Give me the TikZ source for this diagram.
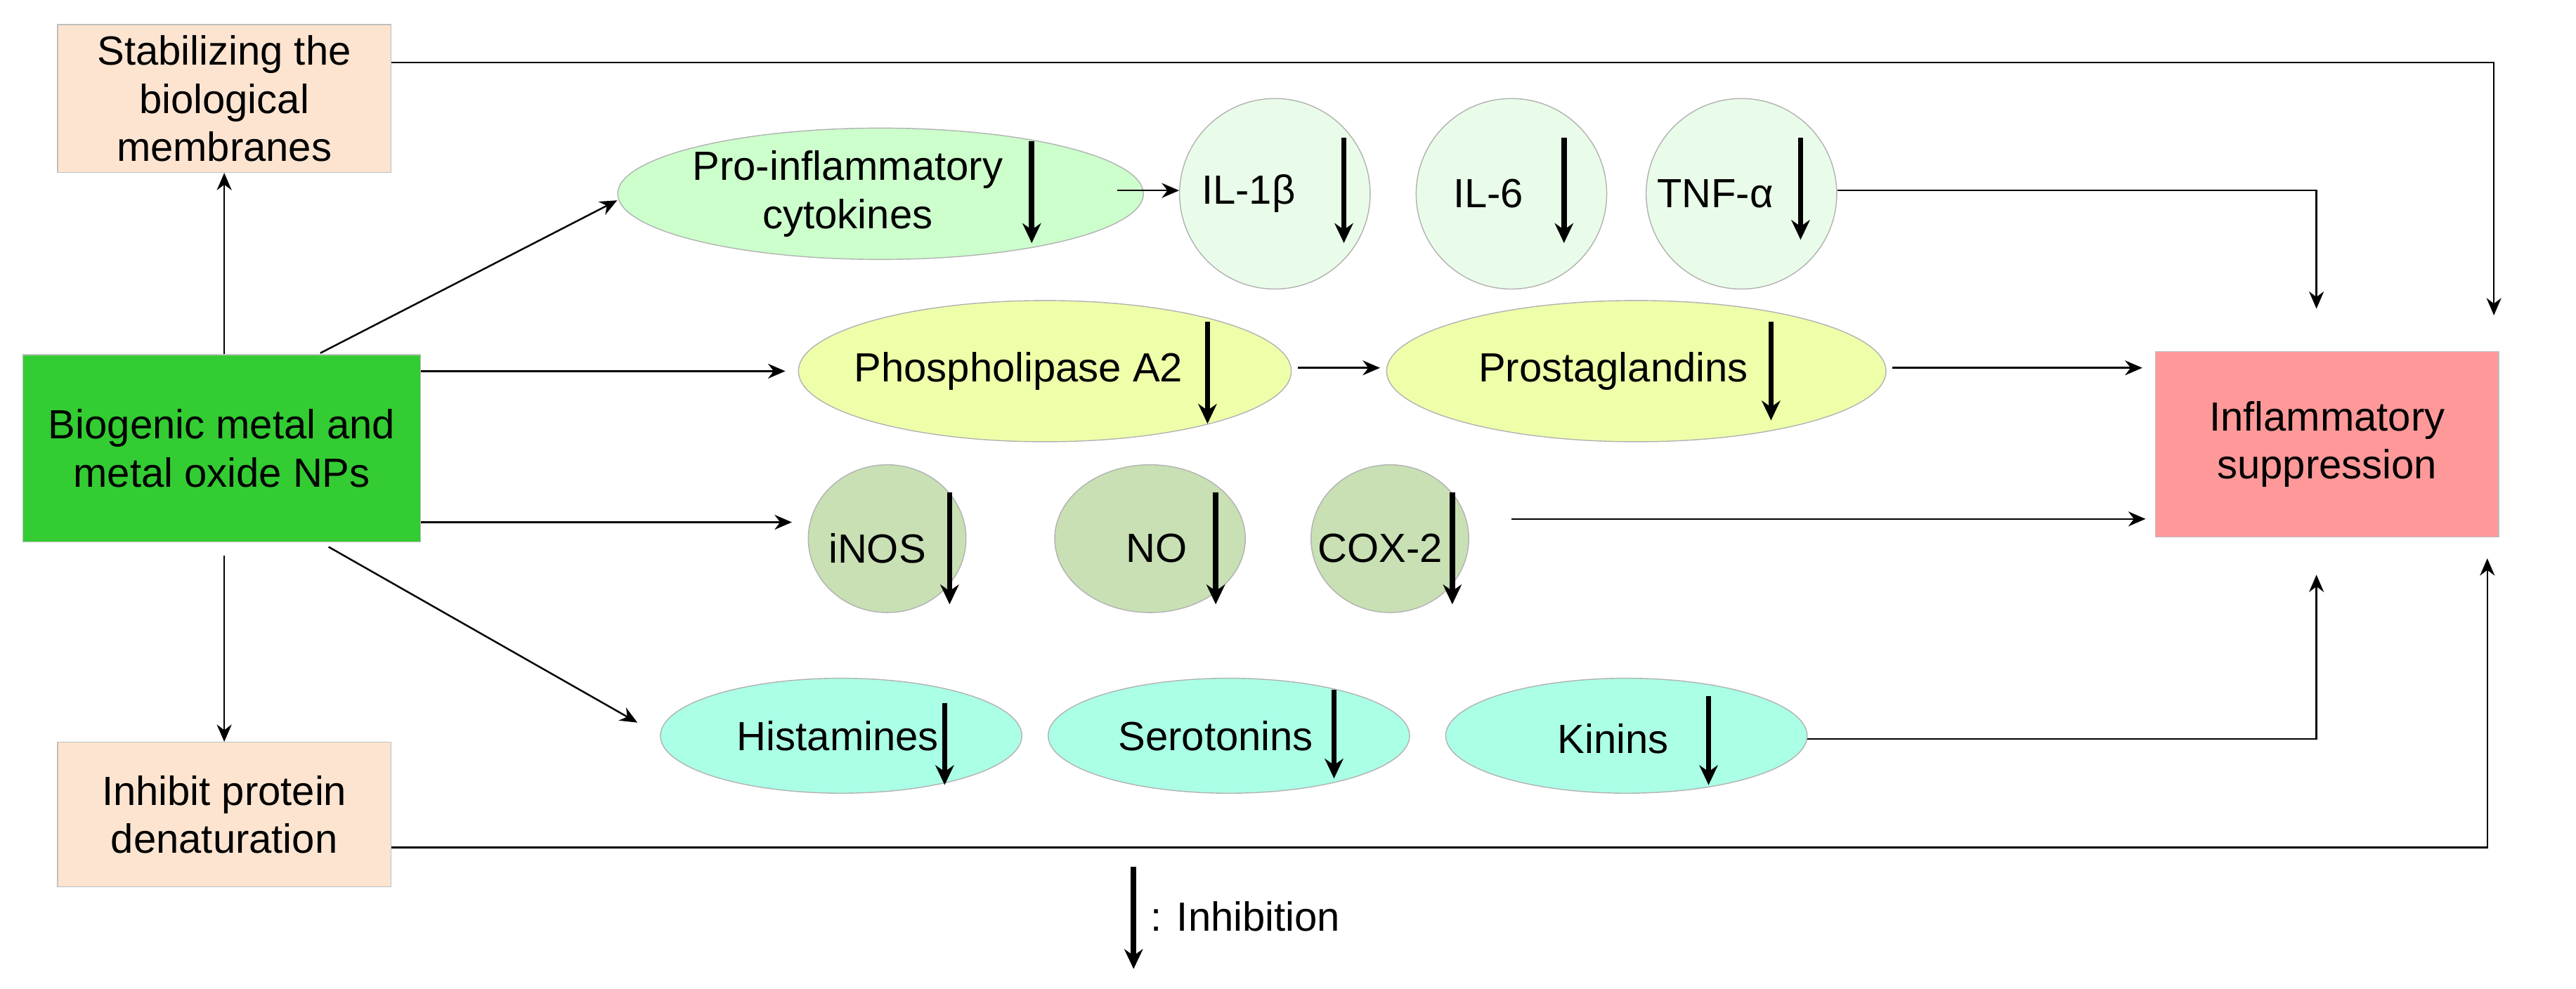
\documentclass[tikz,border=0pt]{standalone}
\usepackage{fontspec}
\setmainfont{Liberation Sans}
\usetikzlibrary{shapes.geometric,arrows.meta}
\definecolor{peach}{HTML}{FCE4D0}
\definecolor{bgreen}{HTML}{33CC33}
\definecolor{pinkr}{HTML}{FF9999}
\definecolor{lgreen}{HTML}{CCFFCC}
\definecolor{vlgreen}{HTML}{E9FCE9}
\definecolor{ygreen}{HTML}{EEFFAA}
\definecolor{olive}{HTML}{C8E0B4}
\definecolor{aqua}{HTML}{AAFFE6}
\begin{document}
\begin{tikzpicture}[x=0.02338cm,y=-0.02338cm,
  every node/.style={font=\fontsize{16.5}{19.5}\selectfont, align=center},
  box/.style={draw=black!25, inner sep=0pt},
  ell/.style={ellipse, draw=black!30, inner sep=0pt},
  circ/.style={circle, draw=black!30, inner sep=0pt, minimum size=116*0.02338cm},
  ar/.style={-{Stealth[length=7pt,width=6pt]}, line width=0.7pt},
  inh/.style={-{Stealth[length=8pt,width=7.5pt]}, line width=2.2pt}]
\useasboundingbox (0,0) rectangle (1568,602);
% boxes
\node[box, fill=peach, minimum width=203*0.02338cm, minimum height=90*0.02338cm] (stab) at (136.5,60) {Stabilizing the\\biological\\membranes};
\node[box, fill=bgreen, minimum width=242*0.02338cm, minimum height=114*0.02338cm] (bio) at (135,273) {Biogenic metal and\\metal oxide NPs};
\node[box, fill=peach, minimum width=203*0.02338cm, minimum height=88*0.02338cm] (inh) at (136.5,496) {Inhibit protein\\denaturation};
\node[box, fill=pinkr, minimum width=209*0.02338cm, minimum height=113*0.02338cm] (sup) at (1416.5,270.5) {Inflammatory\\suppression};
% ellipses
\node[ell, fill=lgreen, minimum width=320*0.02338cm, minimum height=80*0.02338cm] (pro) at (536,118) {};
\node (protx) at (516,118) {Pro-inflammatory\\cytokines};
\node[circ, fill=vlgreen] (il1) at (776,118) {};
\node (il1t) at (760,118) {IL-1β};
\node[circ, fill=vlgreen] (il6) at (920,118) {};
\node (il6t) at (906,118) {IL-6};
\node[circ, fill=vlgreen] (tnf) at (1060,118) {};
\node (tnft) at (1044,118) {TNF-α};
\node[ell, fill=ygreen, minimum width=300*0.02338cm, minimum height=86*0.02338cm] (pla) at (636,226) {};
\node (plat) at (620,226) {Phospholipase A2};
\node[ell, fill=ygreen, minimum width=304*0.02338cm, minimum height=86*0.02338cm] (pg) at (996,226) {};
\node (pgt) at (982,226) {Prostaglandins};
\node[ell, fill=olive, minimum width=96*0.02338cm, minimum height=90*0.02338cm] (inos) at (540,328) {};
\node (inost) at (534,334) {iNOS};
\node[ell, fill=olive, minimum width=116*0.02338cm, minimum height=90*0.02338cm] (no) at (700,328) {};
\node (not) at (704,334) {NO};
\node[ell, fill=olive, minimum width=96*0.02338cm, minimum height=90*0.02338cm] (cox) at (846,328) {};
\node (coxt) at (840,334) {COX-2};
\node[ell, fill=aqua, minimum width=220*0.02338cm, minimum height=70*0.02338cm] (his) at (512,448) {};
\node (hist) at (510,448) {Histamines};
\node[ell, fill=aqua, minimum width=220*0.02338cm, minimum height=70*0.02338cm] (ser) at (748,448) {};
\node (sert) at (740,448) {Serotonins};
\node[ell, fill=aqua, minimum width=220*0.02338cm, minimum height=70*0.02338cm] (kin) at (990,448) {};
\node (kint) at (982,450) {Kinins};
% inhibition arrows
\foreach \n/\x/\a/\b in {i1/628/86/148, i2/818/84/148, i3/952/84/148, i4/1096/84/146, i5/735/196/258, i6/1078/196/256, i7/578/300/368, i8/740/300/368, i9/884/300/368, i10/575/428/478, i11/812/420/474, i12/1040/424/478} {
  \coordinate (\n a) at (\x,\a); \coordinate (\n b) at (\x,\b);
  \draw[inh] (\n a) -- (\n b);
}
% legend
\coordinate (la) at (690,528); \coordinate (lb) at (690,590);
\draw[inh] (la) -- (lb);
\node[anchor=west] (leg) at (695,558) {: Inhibition};
% connectors
\draw[ar] (bio.north -| stab) -- (stab.south);
\draw[ar] (bio.south -| inh) ++(0,8) -- (inh.north);
\coordinate (c1) at (195,215);
\draw[ar] (c1) -- (pro.west |- 0,122);
\draw[ar] (bio.east |- 0,226) -- (478,226);
\draw[ar] (bio.east |- 0,318) -- (482,318);
\coordinate (c2) at (200,333);
\draw[ar] (c2) -- (388,440);
\draw[ar] (680,116) -- (il1.west |- 0,116);
\draw[ar] (790,224) -- (840,224);
\draw[ar] (1152,224) -- (1304,224);
\draw[ar] (920,316) -- (1306,316);
\draw[ar] (tnf.east |- 0,116) -- (1410,116) -- (1410,188);
\draw[ar] (stab.east |- 0,38) -- (1518,38) -- (1518,192);
\draw[ar] (1100,450) -- (1410,450) -- (1410,350);
\draw[ar] (stab.east |- 0,516) -- (1514,516) -- (1514,340);
\end{tikzpicture}
\end{document}
